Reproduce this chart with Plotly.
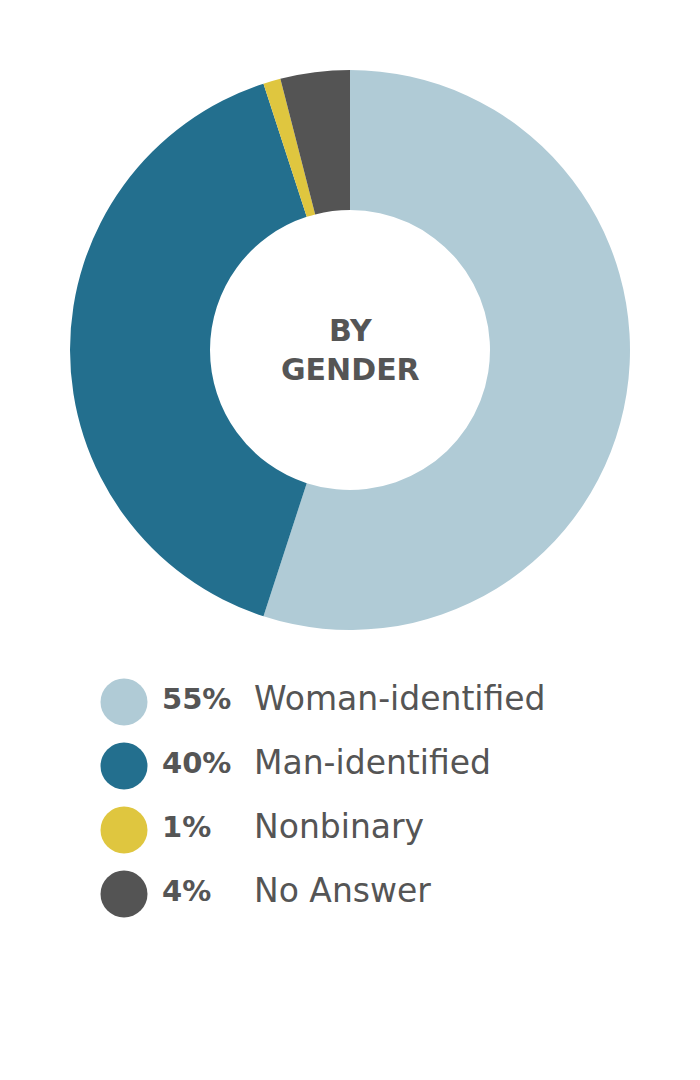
import plotly.graph_objects as go

categories = ["Woman-identified", "Man-identified", "Nonbinary", "No Answer"]
values = [55, 40, 1, 4]
pct_labels = ["55%", "40%", "1%", "4%"]
colors = ["#B0CBD6", "#236F8E", "#DFC63F", "#545454"]
center_title = "BY<br>GENDER"

W, H = 700, 1080
OFF = 8  # body margin of the html page
TEXT = "#555555"
FONT = "DejaVu Sans"

fig = go.Figure()
fig.add_trace(go.Pie(
    labels=categories, values=values, sort=False, direction="clockwise",
    rotation=0, hole=0.5, marker=dict(colors=colors, line=dict(width=0)),
    textinfo="none", hoverinfo="label+percent", showlegend=False,
    domain=dict(x=[(70 - OFF) / W, (630 - OFF) / W],
                y=[(H - 630 + OFF) / H, (H - 70 + OFF) / H]),
))

row_y = [702 - OFF + i * 64 for i in range(len(categories))]
fig.add_trace(go.Scatter(
    x=[124 - OFF] * len(categories), y=row_y, mode="markers",
    marker=dict(size=47, color=colors, line=dict(width=0)),
    hoverinfo="skip", showlegend=False, xaxis="x", yaxis="y",
))
fig.add_trace(go.Scatter(
    x=[162 - OFF] * len(categories), y=row_y, mode="text", text=[f"<b>{p}</b>" for p in pct_labels],
    textposition="middle right", textfont=dict(family=FONT, size=29, color=TEXT),
    hoverinfo="skip", showlegend=False,
))
fig.add_trace(go.Scatter(
    x=[254 - OFF] * len(categories), y=row_y, mode="text", text=categories,
    textposition="middle right", textfont=dict(family=FONT, size=33, color=TEXT),
    hoverinfo="skip", showlegend=False,
))

fig.add_annotation(
    x=(350 - OFF) / W, y=(H - 350 + OFF) / H, xref="paper", yref="paper",
    xanchor="center", yanchor="middle", text=f"<b>{center_title}</b>",
    showarrow=False, font=dict(family=FONT, size=30, color=TEXT), align="center",
)

fig.update_layout(
    width=W, height=H, margin=dict(l=0, r=0, t=0, b=0),
    paper_bgcolor="white", plot_bgcolor="white",
    xaxis=dict(range=[0, W], visible=False, fixedrange=True, domain=[0, 1]),
    yaxis=dict(range=[H, 0], visible=False, fixedrange=True, domain=[0, 1]),
)

fig.write_html("out.html")
